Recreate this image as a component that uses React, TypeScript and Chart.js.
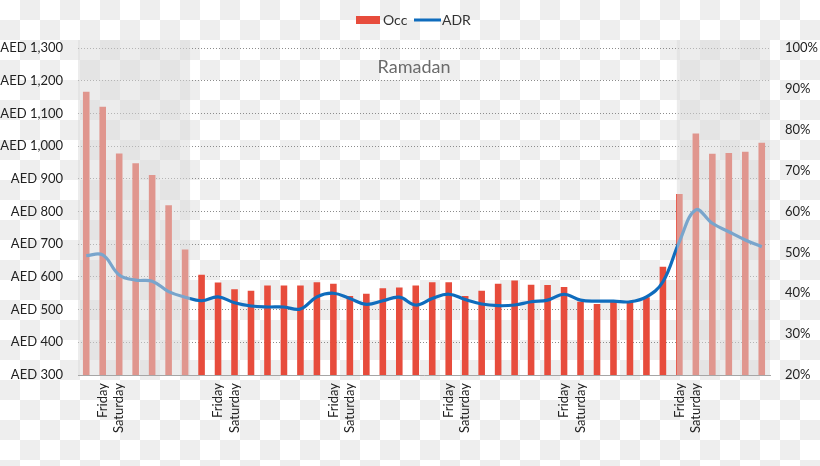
import React, { useEffect, useRef } from "react";
import { Chart, registerables } from "chart.js";

Chart.register(...registerables);

const categories: string[] = [
  "", "Friday", "Saturday", "", "", "", "",
  "", "Friday", "Saturday", "", "", "", "",
  "", "Friday", "Saturday", "", "", "", "",
  "", "Friday", "Saturday", "", "", "", "",
  "", "Friday", "Saturday", "", "", "", "",
  "", "Friday", "Saturday", "", "", "", "",
];

const occValues: number[] = [
  89.3, 85.6, 74.2, 71.8, 68.9, 61.5, 50.7, 44.5, 42.6, 41.0,
  40.6, 41.9, 41.9, 41.9, 42.7, 42.3, 39.3, 39.9, 41.2, 41.4,
  41.9, 42.7, 42.7, 39.3, 40.6, 42.3, 43.1, 42.1, 42.0, 41.5,
  37.9, 37.4, 37.9, 37.9, 39.0, 46.5, 64.3, 79.1, 74.1, 74.3,
  74.6, 76.8,
];

const adrValues: number[] = [
  665, 667, 606, 590, 587, 555, 538, 527, 539, 521,
  511, 508, 508, 502, 539, 550, 534, 516, 527, 538,
  514, 534, 547, 531, 517, 512, 514, 524, 529, 547,
  529, 526, 526, 524, 539, 585, 708, 805, 764, 738,
  713, 692,
];

// shaded (faded) category ranges, inclusive
const shadeRanges: [number, number][] = [
  [0, 6],
  [36, 41],
];

const annotationText = "Ramadan";
const legendNames = ["Occ", "ADR"];

const RED = "#e74c3c";
const BLUE = "#0f6cbd";
const FONT = "Lato";

const overlayPlugin = {
  id: "overlay",
  afterDatasetsDraw(chart: any) {
    const { ctx, chartArea } = chart;
    const x = chart.scales.x;
    const n = categories.length;
    ctx.save();
    ctx.fillStyle = "rgba(218,218,218,0.52)";
    const top = chartArea.top - 8;
    for (const [a, b] of shadeRanges) {
      const left = a === 0 ? chartArea.left : x.getPixelForValue(a) - 2.5;
      const right = b === n - 1 ? chartArea.right : x.getPixelForValue(b) + 5;
      ctx.fillRect(left, top, right - left, chartArea.bottom - top);
    }
    // annotation
    ctx.fillStyle = "#6b6b6b";
    ctx.font = `18px ${FONT}`;
    ctx.textAlign = "center";
    ctx.textBaseline = "middle";
    ctx.fillText(annotationText, 414, 67);

    // legend
    ctx.font = `14px ${FONT}`;
    ctx.textAlign = "left";
    ctx.fillStyle = RED;
    ctx.fillRect(356, 16, 24, 8);
    ctx.fillStyle = "#333";
    ctx.fillText(legendNames[0], 383, 20);
    ctx.strokeStyle = BLUE;
    ctx.lineWidth = 3;
    ctx.beginPath();
    ctx.moveTo(414, 20);
    ctx.lineTo(441, 20);
    ctx.stroke();
    ctx.fillStyle = "#333";
    ctx.fillText(legendNames[1], 442, 20);
    ctx.restore();
  },
};

export default function App() {
  const ref = useRef<HTMLCanvasElement | null>(null);

  useEffect(() => {
    if (!ref.current) return;
    const chart = new Chart(ref.current, {
      type: "bar",
      data: {
        labels: categories,
        datasets: [
          {
            type: "bar",
            label: legendNames[0],
            data: occValues,
            backgroundColor: RED,
            borderWidth: 0,
            yAxisID: "yR",
            categoryPercentage: 1,
            barPercentage: 0.4,
            order: 2,
          } as any,
          {
            type: "line",
            label: legendNames[1],
            data: adrValues,
            borderColor: BLUE,
            backgroundColor: BLUE,
            borderWidth: 3.2,
            pointRadius: 0,
            tension: 0.4,
            yAxisID: "yL",
            order: 1,
          } as any,
        ],
      },
      options: {
        responsive: false,
        animation: false,
        layout: { padding: { top: 48, left: 0, right: 0, bottom: 0 } },
        plugins: {
          legend: { display: false },
          tooltip: { enabled: false },
        },
        scales: {
          x: {
            offset: true,
            grid: { display: false, drawTicks: false },
            border: { display: true, color: "#a6a6a6", width: 1 },
            ticks: {
              autoSkip: false,
              maxRotation: 90,
              minRotation: 90,
              padding: 8,
              color: "#222",
              font: { family: FONT, size: 13 },
            },
            afterFit(s: any) {
              s.height = 91;
            },
          },
          yL: {
            position: "left",
            min: 300,
            max: 1300,
            ticks: {
              stepSize: 100,
              padding: 15,
              color: "#222",
              font: { family: FONT, size: 13 },
              callback: (v: any) => "AED " + Number(v).toLocaleString("en-US"),
            },
            grid: { color: "#8c8c8c", lineWidth: 1, drawTicks: false },
            border: { display: false, dash: [1, 2] },
            afterFit(s: any) {
              s.width = 78;
            },
          },
          yR: {
            position: "right",
            min: 20,
            max: 100,
            ticks: {
              stepSize: 10,
              padding: 15,
              color: "#222",
              font: { family: FONT, size: 13 },
              callback: (v: any) => v + "%",
            },
            grid: { display: false, drawTicks: false },
            border: { display: false },
            afterFit(s: any) {
              s.width = 50;
            },
          },
        },
      },
      plugins: [overlayPlugin],
    });
    return () => chart.destroy();
  }, []);

  return (
    <div
      style={{
        position: "fixed",
        top: 0,
        left: 0,
        width: 820,
        height: 466,
        background: "repeating-conic-gradient(#eeeeee 0 25%, #ffffff 0 50%) 0 0 / 40px 40px",
      }}
    >
      <canvas ref={ref} width={820} height={466} style={{ display: "block" }} />
    </div>
  );
}
